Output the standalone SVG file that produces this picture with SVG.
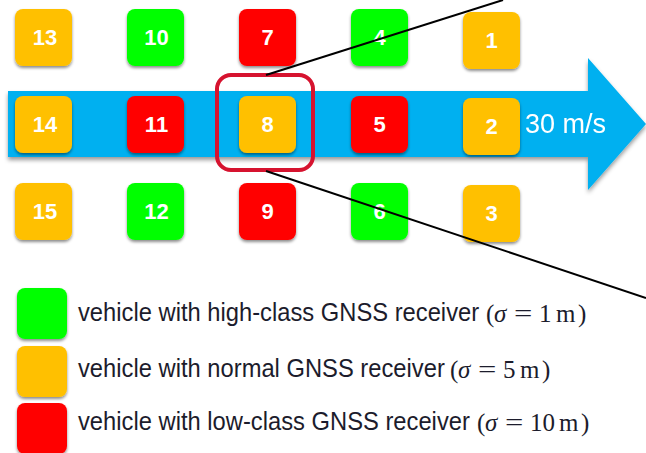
<svg xmlns="http://www.w3.org/2000/svg" width="646" height="453" viewBox="0 0 646 453">
<defs>
<filter id="sh" x="-20%" y="-20%" width="140%" height="150%">
<feDropShadow dx="0" dy="2" stdDeviation="1.5" flood-color="#000" flood-opacity="0.45"/>
</filter>
<filter id="ash" x="-5%" y="-10%" width="110%" height="130%">
<feDropShadow dx="0" dy="3" stdDeviation="2" flood-color="#000" flood-opacity="0.4"/>
</filter>
</defs>
<style>
.g{fill:#00FF00}
.o{fill:#FFC000}
.r{fill:#FF0000}
.sq{filter:url(#sh)}
.n{font-family:"Liberation Sans",Arial,sans-serif;font-size:22px;font-weight:bold;fill:#fff;text-anchor:middle}
.lt{font-family:"Liberation Sans",Arial,sans-serif;font-size:25px;fill:#1c1c2c}
.m{font-family:"Liberation Serif","Times New Roman",serif;font-size:25px;fill:#1c1c2c}
.conn{stroke:#000;stroke-width:2;fill:none}
</style>
<rect width="646" height="453" fill="#fff"/>
<g id="arrow" filter="url(#ash)">
<path d="M8,91 H588 V58 L646,124 L588,190 V157 H8 Z" fill="#00B0F0"/>
<text x="525" y="133" font-family="Liberation Sans,Arial,sans-serif" font-size="27" fill="#fff">30 m/s</text>
</g>
<g id="n13"><rect class="sq o" x="15" y="9" width="57" height="57" rx="8"/><text class="n" x="45" y="45">13</text></g>
<g id="n10"><rect class="sq g" x="127" y="9" width="57" height="57" rx="8"/><text class="n" x="156.5" y="45">10</text></g>
<g id="n7"><rect class="sq r" x="239" y="9" width="57" height="57" rx="8"/><text class="n" x="267.5" y="45">7</text></g>
<g id="n4"><rect class="sq g" x="351" y="9" width="57" height="57" rx="8"/><text class="n" x="379.5" y="45">4</text></g>
<g id="n1"><rect class="sq o" x="463" y="12" width="57" height="57" rx="8"/><text class="n" x="491.5" y="48">1</text></g>
<g id="n14"><rect class="sq o" x="15" y="96" width="57" height="57" rx="8"/><text class="n" x="45" y="132">14</text></g>
<g id="n11"><rect class="sq r" x="127" y="96" width="57" height="57" rx="8"/><text class="n" x="156.5" y="132">11</text></g>
<g id="n8"><rect class="sq o" x="239" y="96" width="57" height="57" rx="8"/><text class="n" x="267.5" y="132">8</text></g>
<g id="n5"><rect class="sq r" x="351" y="96" width="57" height="57" rx="8"/><text class="n" x="379.5" y="132">5</text></g>
<g id="n2"><rect class="sq o" x="463" y="98" width="57" height="57" rx="8"/><text class="n" x="491.5" y="134">2</text></g>
<g id="n15"><rect class="sq o" x="15" y="183" width="57" height="57" rx="8"/><text class="n" x="45" y="219">15</text></g>
<g id="n12"><rect class="sq g" x="127" y="183" width="57" height="57" rx="8"/><text class="n" x="156.5" y="219">12</text></g>
<g id="n9"><rect class="sq r" x="239" y="183" width="57" height="57" rx="8"/><text class="n" x="267.5" y="219">9</text></g>
<g id="n6"><rect class="sq g" x="351" y="183" width="57" height="57" rx="8"/><text class="n" x="379.5" y="219">6</text></g>
<g id="n3"><rect class="sq o" x="463" y="185" width="57" height="57" rx="8"/><text class="n" x="491.5" y="221">3</text></g>
<g id="highlight"><rect x="217" y="75" width="96" height="95" rx="14" fill="none" stroke="#D6132F" stroke-width="4"/></g>
<g id="connectors">
<line class="conn" x1="266" y1="75" x2="503" y2="0"/>
<line class="conn" x1="266" y1="171" x2="646" y2="298"/>
</g>
<g id="legend">
<g id="leg-high"><rect class="sq g" x="17" y="288" width="50" height="51" rx="8"/>
<text class="lt" transform="translate(78,321) scale(0.95,1)">vehicle with high-class GNSS receiver</text>
<text class="m" y="322"><tspan x="486">(</tspan><tspan x="494" font-style="italic">σ</tspan><tspan x="539">1</tspan><tspan x="556">m</tspan><tspan x="578">)</tspan></text>
<text class="m" transform="translate(514,322) scale(1.3,1)">=</text></g>
<g id="leg-normal"><rect class="sq o" x="17" y="346" width="50" height="51" rx="8"/>
<text class="lt" transform="translate(78,377) scale(0.95,1)">vehicle with normal GNSS receiver</text>
<text class="m" y="378"><tspan x="450">(</tspan><tspan x="458" font-style="italic">σ</tspan><tspan x="503">5</tspan><tspan x="520">m</tspan><tspan x="542">)</tspan></text>
<text class="m" transform="translate(478,378) scale(1.3,1)">=</text></g>
<g id="leg-low"><rect class="sq r" x="17" y="403" width="50" height="51" rx="8"/>
<text class="lt" transform="translate(78,430) scale(0.95,1)">vehicle with low-class GNSS receiver</text>
<text class="m" y="431"><tspan x="477">(</tspan><tspan x="485" font-style="italic">σ</tspan><tspan x="530">10</tspan><tspan x="559">m</tspan><tspan x="581">)</tspan></text>
<text class="m" transform="translate(505,431) scale(1.3,1)">=</text></g>
</g>
</svg>
